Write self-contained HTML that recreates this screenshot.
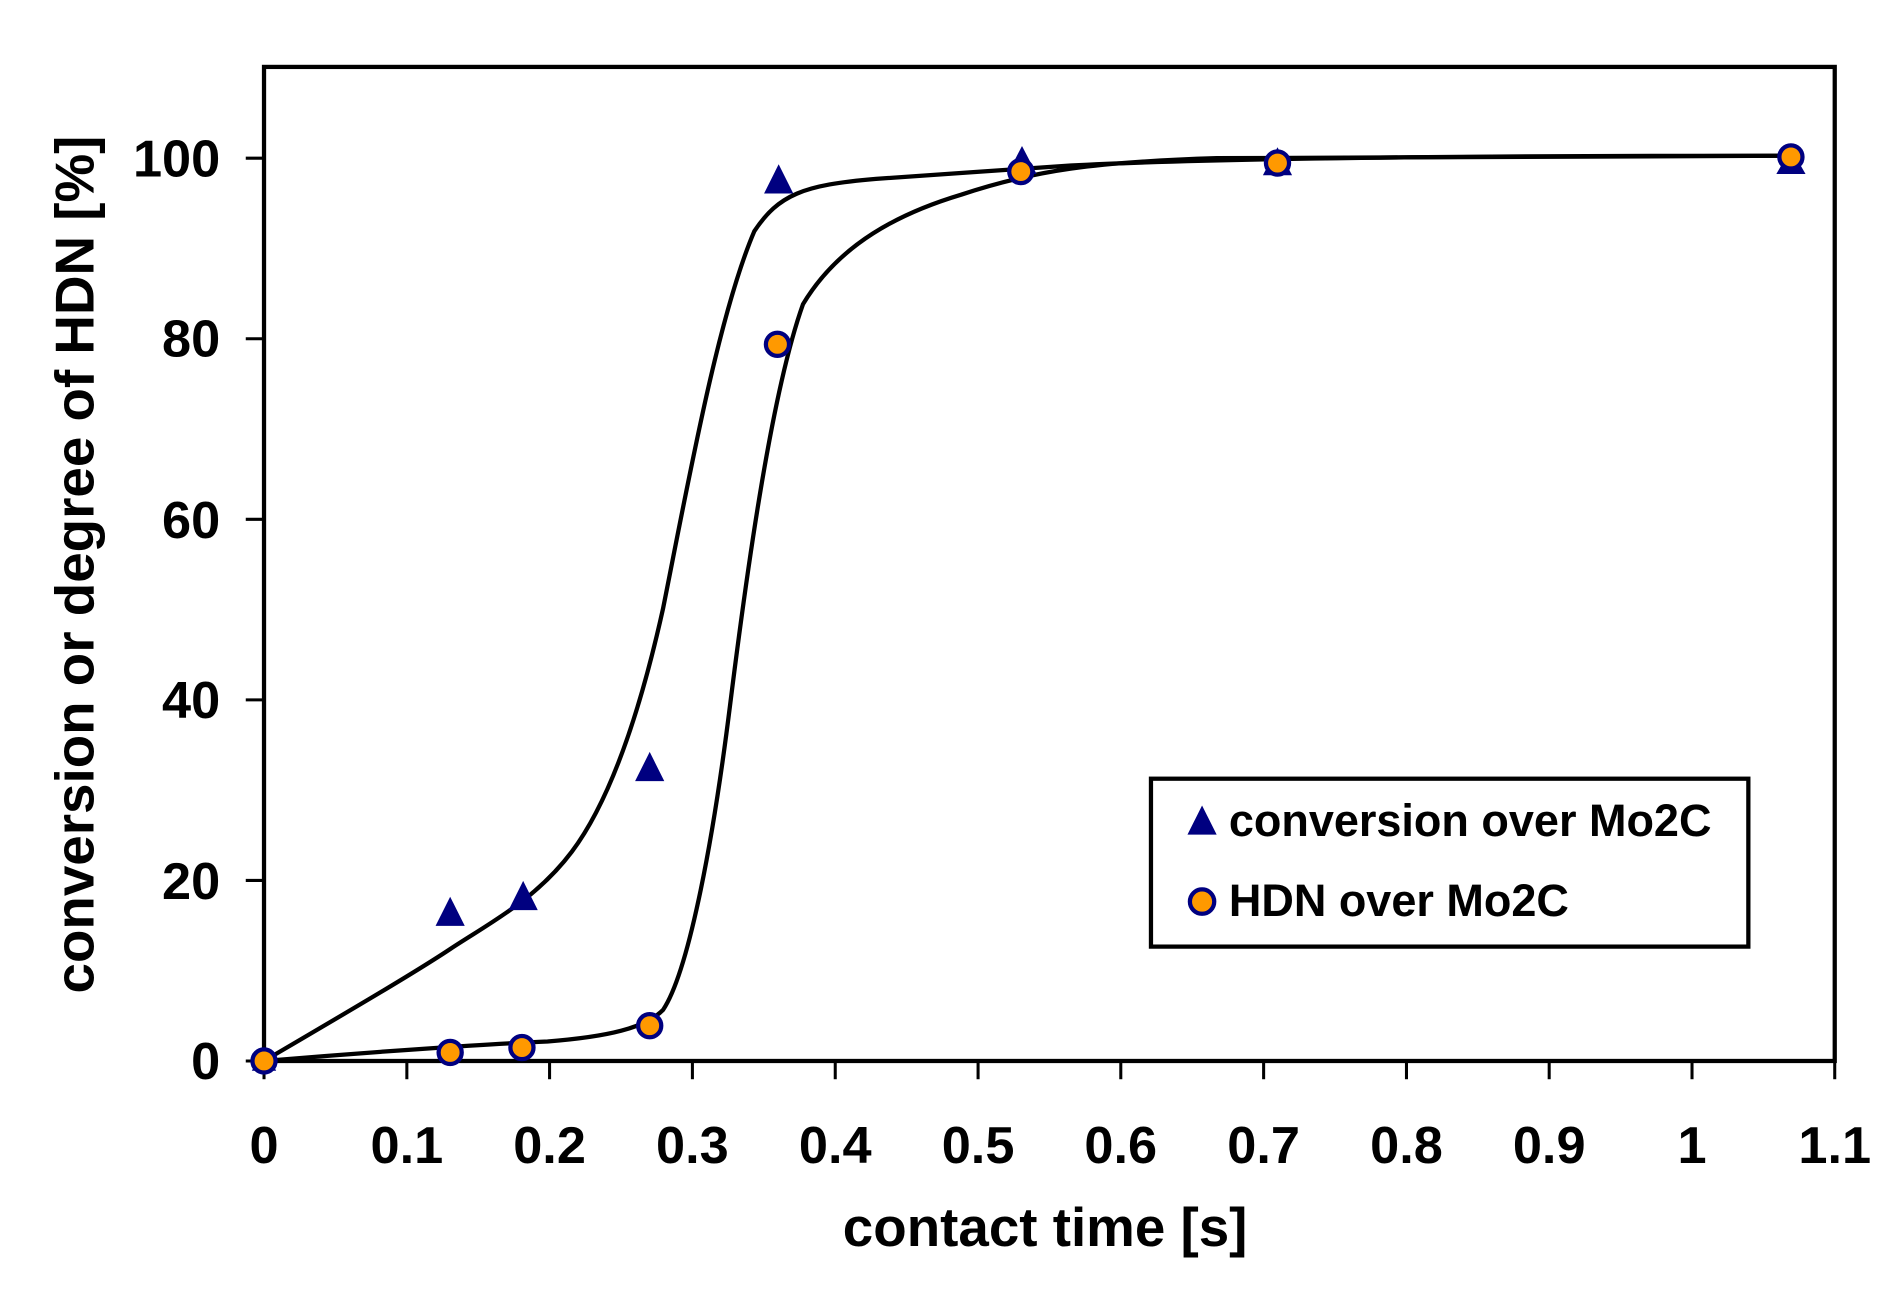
<!DOCTYPE html>
<html><head><meta charset="utf-8"><style>
html,body{margin:0;padding:0;background:#fff;}
svg{display:block;}
text{font-family:"Liberation Sans",Arial,sans-serif;font-weight:bold;fill:#000;}
</style></head><body>
<svg width="1898" height="1298" viewBox="0 0 1560 1066.8" preserveAspectRatio="none" xmlns="http://www.w3.org/2000/svg">
<rect x="0" y="0" width="1560" height="1067" fill="#fff"/>
<rect x="217" y="55" width="1291" height="817" fill="none" stroke="#000" stroke-width="3.5"/>
<g stroke="#000" stroke-width="2.5">
<line x1="202" y1="872" x2="217" y2="872"/>
<line x1="202" y1="723.6" x2="217" y2="723.6"/>
<line x1="202" y1="575.2" x2="217" y2="575.2"/>
<line x1="202" y1="426.8" x2="217" y2="426.8"/>
<line x1="202" y1="278.4" x2="217" y2="278.4"/>
<line x1="202" y1="130" x2="217" y2="130"/>
<line x1="217" y1="872" x2="217" y2="887"/>
<line x1="334.4" y1="872" x2="334.4" y2="887"/>
<line x1="451.7" y1="872" x2="451.7" y2="887"/>
<line x1="569.1" y1="872" x2="569.1" y2="887"/>
<line x1="686.5" y1="872" x2="686.5" y2="887"/>
<line x1="803.9" y1="872" x2="803.9" y2="887"/>
<line x1="921.2" y1="872" x2="921.2" y2="887"/>
<line x1="1038.6" y1="872" x2="1038.6" y2="887"/>
<line x1="1156" y1="872" x2="1156" y2="887"/>
<line x1="1273.3" y1="872" x2="1273.3" y2="887"/>
<line x1="1390.7" y1="872" x2="1390.7" y2="887"/>
<line x1="1508" y1="872" x2="1508" y2="887"/>
</g>
<g font-size="43" text-anchor="end">
<text x="181" y="887">0</text>
<text x="181" y="739">20</text>
<text x="181" y="590">40</text>
<text x="181" y="442">60</text>
<text x="181" y="293">80</text>
<text x="181" y="145">100</text>
</g>
<g font-size="43" text-anchor="middle">
<text x="217" y="956">0</text>
<text x="334.4" y="956">0.1</text>
<text x="451.7" y="956">0.2</text>
<text x="569.1" y="956">0.3</text>
<text x="686.5" y="956">0.4</text>
<text x="803.9" y="956">0.5</text>
<text x="921.2" y="956">0.6</text>
<text x="1038.6" y="956">0.7</text>
<text x="1156" y="956">0.8</text>
<text x="1273.3" y="956">0.9</text>
<text x="1390.7" y="956">1</text>
<text x="1508" y="956">1.1</text>
</g>
<text x="859" y="1024" font-size="45" text-anchor="middle">contact time [s]</text>
<text transform="translate(77,464) rotate(-90)" font-size="45" text-anchor="middle">conversion or degree of HDN [%]</text>
<g fill="none" stroke="#000" stroke-width="3.5">
<path d="M217,872 C280,835 340,800 370,780 C400,760 440,740 470,700 C500,660 525,590 545,500 C565,400 590,260 620,190 C640,160 660,152 720,147 C780,143 820,140 880,136 C1000,130 1200,128 1470,128"/>
<path d="M217,872 C300,865 400,858 450,856 C500,852 530,845 545,830 C565,800 585,700 600,580 C615,460 635,320 660,250 C690,200 740,175 790,160 C850,140 900,133 1000,130 C1200,128 1350,128 1470,128"/>
</g>
<g fill="#000080">
<polygon points="217,862 227,880 207,880"/>
<polygon points="370,737 382,761 358,761"/>
<polygon points="430,724 442,748 418,748"/>
<polygon points="534,618 546,642 522,642"/>
<polygon points="640,135 652,159 628,159"/>
<polygon points="840,120 852,143 828,143"/>
<polygon points="1050,121 1062,144 1038,144"/>
<polygon points="1472,122 1484,143 1460,143"/>
</g>
<g fill="#FF9900" stroke="#000080" stroke-width="3.5">
<circle cx="217" cy="872" r="9.5"/>
<circle cx="370" cy="865" r="9.5"/>
<circle cx="429" cy="861" r="9.5"/>
<circle cx="534" cy="843" r="9.5"/>
<circle cx="639" cy="283" r="9.5"/>
<circle cx="839" cy="141" r="9.5"/>
<circle cx="1050" cy="134" r="9.5"/>
<circle cx="1472" cy="129" r="9.5"/>
</g>
<rect x="946" y="640" width="491" height="138" fill="#fff" stroke="#000" stroke-width="3.5"/>
<polygon points="988,662 1000,686 976,686" fill="#000080"/>
<circle cx="988" cy="741" r="10" fill="#FF9900" stroke="#000080" stroke-width="3.5"/>
<text x="1010" y="687" font-size="37">conversion over Mo2C</text>
<text x="1010" y="753" font-size="37">HDN over Mo2C</text>
</svg>
</body></html>
